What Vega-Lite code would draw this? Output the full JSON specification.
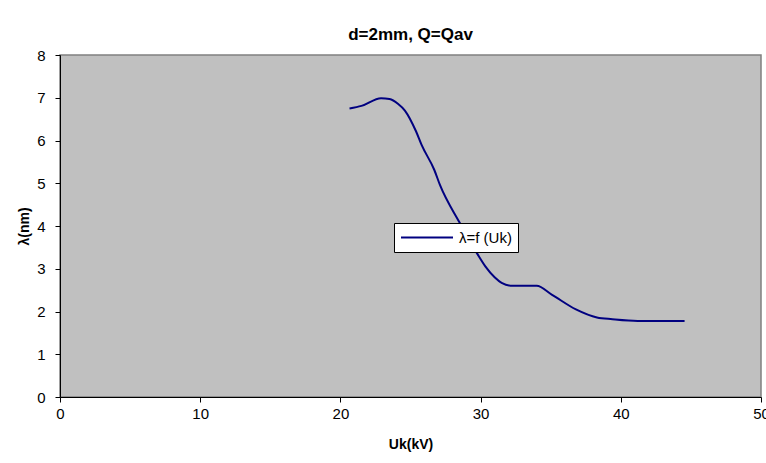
{
  "$schema": "https://vega.github.io/schema/vega-lite/v6.json",
  "width": 701,
  "height": 342,
  "autosize": {"type": "none"},
  "padding": {"left": 60, "top": 55, "right": 5, "bottom": 66},
  "background": "white",
  "title": {
    "text": "d=2mm, Q=Qav",
    "font": "Liberation Sans",
    "fontSize": 17,
    "fontWeight": "bold",
    "color": "black",
    "anchor": "middle",
    "frame": "group",
    "offset": 4
  },
  "config": {
    "view": {"fill": "#C0C0C0", "stroke": "#808080", "strokeWidth": 1.5},
    "axis": {
      "labelFont": "Liberation Sans",
      "labelFontSize": 15,
      "labelColor": "black",
      "titleFont": "Liberation Sans",
      "titleFontSize": 14,
      "titleFontWeight": "bold",
      "titleColor": "black",
      "domainColor": "black",
      "tickColor": "black",
      "tickSize": 5,
      "grid": false
    }
  },
  "data": {
    "values": [
      {"Uk": 20.65, "lambda": 6.75},
      {"Uk": 21.5, "lambda": 6.81},
      {"Uk": 22.9, "lambda": 6.99},
      {"Uk": 23.5, "lambda": 6.97},
      {"Uk": 24.1, "lambda": 6.86},
      {"Uk": 24.6, "lambda": 6.7},
      {"Uk": 25.4, "lambda": 6.21},
      {"Uk": 25.8, "lambda": 5.89},
      {"Uk": 26.7, "lambda": 5.31},
      {"Uk": 27.1, "lambda": 4.96},
      {"Uk": 28.5, "lambda": 4.08},
      {"Uk": 29.8, "lambda": 3.33},
      {"Uk": 30.35, "lambda": 3.05},
      {"Uk": 31.0, "lambda": 2.8},
      {"Uk": 31.5, "lambda": 2.67},
      {"Uk": 32.3, "lambda": 2.6},
      {"Uk": 34.0, "lambda": 2.6},
      {"Uk": 35.1, "lambda": 2.39},
      {"Uk": 36.8, "lambda": 2.05},
      {"Uk": 38.3, "lambda": 1.86},
      {"Uk": 39.4, "lambda": 1.82},
      {"Uk": 41.2, "lambda": 1.78},
      {"Uk": 44.55, "lambda": 1.78}
    ]
  },
  "mark": {"type": "line", "strokeWidth": 2, "interpolate": "monotone"},
  "encoding": {
    "x": {
      "field": "Uk",
      "type": "quantitative",
      "scale": {"domain": [0, 50], "nice": false, "zero": false},
      "axis": {"title": "Uk(kV)", "values": [0, 10, 20, 30, 40, 50], "labelPadding": 4, "titlePadding": 16, "labelFlush": false}
    },
    "y": {
      "field": "lambda",
      "type": "quantitative",
      "scale": {"domain": [0, 8], "nice": false},
      "axis": {"title": "λ(nm)", "values": [0, 1, 2, 3, 4, 5, 6, 7, 8], "labelPadding": 10, "titlePadding": 5}
    },
    "color": {
      "datum": "λ=f (Uk)",
      "type": "nominal",
      "scale": {"range": ["#000080"]},
      "legend": {
        "title": null,
        "orient": "none",
        "legendX": 334,
        "legendY": 168,
        "fillColor": "white",
        "strokeColor": "black",
        "padding": 6,
        "clipHeight": 17,
        "symbolType": "stroke",
        "symbolSize": 2704,
        "symbolStrokeWidth": 2,
        "labelFont": "Liberation Sans",
        "labelFontSize": 15,
        "labelColor": "black",
        "labelOffset": 5
      }
    }
  }
}
